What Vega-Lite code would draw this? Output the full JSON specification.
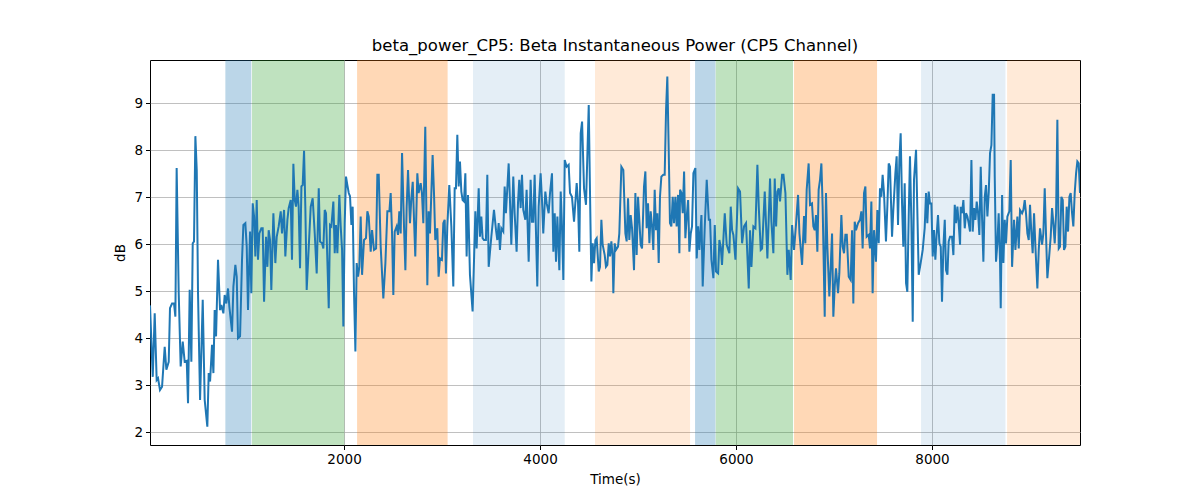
{
  "$schema": "https://vega.github.io/schema/vega-lite/v6.json",
  "width": 930,
  "height": 385,
  "autosize": "none",
  "padding": {"left": 150, "top": 60, "right": 120, "bottom": 55},
  "background": "white",
  "title": {
    "text": "beta_power_CP5: Beta Instantaneous Power (CP5 Channel)",
    "font": "DejaVu Sans",
    "fontSize": 16.5,
    "fontWeight": "normal",
    "color": "black",
    "offset": 6
  },
  "datasets": {
    "bands": [
      {"start": 789, "end": 1054, "phase": "blue"},
      {"start": 1061, "end": 2003, "phase": "green"},
      {"start": 2133, "end": 3057, "phase": "orange"},
      {"start": 3316, "end": 4252, "phase": "lightblue"},
      {"start": 4561, "end": 5531, "phase": "lightorange"},
      {"start": 5582, "end": 5790, "phase": "blue"},
      {"start": 5793, "end": 6582, "phase": "green"},
      {"start": 6592, "end": 7439, "phase": "orange"},
      {"start": 7888, "end": 8749, "phase": "lightblue"},
      {"start": 8766, "end": 9510, "phase": "lightorange"}
    ],
    "series": [
      {"t":20,"db":4.7},{"t":48,"db":3.18},{"t":68,"db":4.53},{"t":88,"db":3.11},{"t":102,"db":3.15},{"t":122,"db":2.9},{"t":143,"db":2.97},{"t":170,"db":3.82},{"t":187,"db":3.33},{"t":211,"db":3.5},
      {"t":224,"db":4.64},{"t":245,"db":4.74},{"t":265,"db":4.74},{"t":279,"db":4.46},{"t":292,"db":7.62},{"t":313,"db":4.96},{"t":333,"db":3.4},{"t":354,"db":3.93},{"t":374,"db":3.5},{"t":395,"db":3.52},
      {"t":408,"db":2.62},{"t":425,"db":5.03},{"t":442,"db":3.5},{"t":456,"db":6.02},{"t":469,"db":6.06},{"t":483,"db":8.3},{"t":497,"db":7.58},{"t":510,"db":4.96},{"t":531,"db":2.69},{"t":558,"db":4.82},
      {"t":578,"db":2.69},{"t":605,"db":2.12},{"t":619,"db":3.26},{"t":633,"db":3.08},{"t":653,"db":3.86},{"t":667,"db":3.26},{"t":680,"db":4.6},{"t":694,"db":4.04},{"t":714,"db":5.67},{"t":735,"db":4.6},
      {"t":748,"db":4.71},{"t":769,"db":4.53},{"t":782,"db":4.92},{"t":799,"db":4.74},{"t":816,"db":5.06},{"t":830,"db":4.67},{"t":857,"db":4.14},{"t":871,"db":5.1},{"t":891,"db":5.56},{"t":905,"db":5.31},
      {"t":918,"db":4.0},{"t":939,"db":4.04},{"t":959,"db":5.67},{"t":973,"db":6.41},{"t":993,"db":6.45},{"t":1007,"db":5.95},{"t":1020,"db":4.6},{"t":1041,"db":6.27},{"t":1054,"db":4.96},{"t":1068,"db":6.87},
      {"t":1082,"db":6.59},{"t":1095,"db":5.74},{"t":1109,"db":6.94},{"t":1122,"db":5.67},{"t":1136,"db":6.23},{"t":1156,"db":6.34},{"t":1170,"db":6.34},{"t":1184,"db":4.78},{"t":1204,"db":6.16},{"t":1218,"db":5.52},
      {"t":1231,"db":6.3},{"t":1245,"db":6.09},{"t":1258,"db":5.03},{"t":1279,"db":6.66},{"t":1299,"db":5.6},{"t":1313,"db":6.16},{"t":1333,"db":6.38},{"t":1354,"db":6.7},{"t":1367,"db":6.23},{"t":1388,"db":6.73},
      {"t":1401,"db":5.74},{"t":1422,"db":6.52},{"t":1435,"db":6.77},{"t":1456,"db":6.94},{"t":1469,"db":5.67},{"t":1483,"db":7.71},{"t":1497,"db":6.94},{"t":1510,"db":6.8},{"t":1524,"db":7.16},{"t":1537,"db":6.8},
      {"t":1551,"db":5.49},{"t":1565,"db":7.23},{"t":1578,"db":7.26},{"t":1592,"db":7.99},{"t":1605,"db":6.8},{"t":1619,"db":5.03},{"t":1640,"db":5.95},{"t":1660,"db":6.8},{"t":1680,"db":6.98},{"t":1701,"db":6.23},
      {"t":1721,"db":5.38},{"t":1742,"db":7.19},{"t":1755,"db":6.06},{"t":1776,"db":6.02},{"t":1789,"db":5.91},{"t":1803,"db":6.73},{"t":1816,"db":6.66},{"t":1844,"db":4.64},{"t":1857,"db":6.41},{"t":1871,"db":6.38},
      {"t":1891,"db":6.91},{"t":1905,"db":5.81},{"t":1918,"db":6.41},{"t":1932,"db":5.81},{"t":1952,"db":7.05},{"t":1966,"db":6.38},{"t":1980,"db":5.88},{"t":1993,"db":4.25},{"t":2007,"db":6.45},{"t":2020,"db":7.44},
      {"t":2034,"db":7.26},{"t":2048,"db":7.09},{"t":2061,"db":7.02},{"t":2075,"db":6.41},{"t":2088,"db":6.8},{"t":2102,"db":4.96},{"t":2116,"db":3.72},{"t":2129,"db":5.6},{"t":2143,"db":5.31},{"t":2156,"db":5.52},
      {"t":2170,"db":6.59},{"t":2184,"db":5.35},{"t":2204,"db":6.09},{"t":2224,"db":6.13},{"t":2238,"db":6.7},{"t":2252,"db":6.59},{"t":2272,"db":5.84},{"t":2286,"db":6.3},{"t":2306,"db":5.88},{"t":2327,"db":5.91},
      {"t":2340,"db":7.48},{"t":2354,"db":7.48},{"t":2374,"db":5.95},{"t":2401,"db":4.85},{"t":2422,"db":5.6},{"t":2442,"db":6.7},{"t":2463,"db":6.7},{"t":2476,"db":7.09},{"t":2490,"db":6.23},{"t":2503,"db":4.92},
      {"t":2517,"db":6.27},{"t":2537,"db":6.38},{"t":2551,"db":6.2},{"t":2564,"db":6.7},{"t":2578,"db":6.23},{"t":2592,"db":7.94},{"t":2612,"db":6.38},{"t":2626,"db":5.45},{"t":2639,"db":6.8},{"t":2653,"db":7.58},
      {"t":2673,"db":6.45},{"t":2687,"db":6.98},{"t":2701,"db":7.33},{"t":2727,"db":5.74},{"t":2748,"db":7.51},{"t":2761,"db":7.09},{"t":2782,"db":7.3},{"t":2795,"db":7.09},{"t":2809,"db":6.45},{"t":2829,"db":8.5},
      {"t":2850,"db":5.13},{"t":2863,"db":6.7},{"t":2877,"db":6.23},{"t":2904,"db":7.9},{"t":2918,"db":7.09},{"t":2931,"db":6.09},{"t":2952,"db":6.34},{"t":2965,"db":5.31},{"t":2979,"db":5.7},{"t":2999,"db":5.67},
      {"t":3013,"db":6.45},{"t":3027,"db":6.52},{"t":3040,"db":5.38},{"t":3054,"db":6.38},{"t":3074,"db":7.26},{"t":3095,"db":6.38},{"t":3115,"db":5.1},{"t":3129,"db":7.19},{"t":3142,"db":7.19},{"t":3156,"db":8.33},
      {"t":3170,"db":7.23},{"t":3183,"db":7.76},{"t":3197,"db":7.12},{"t":3210,"db":6.94},{"t":3224,"db":6.91},{"t":3238,"db":7.51},{"t":3251,"db":5.74},{"t":3265,"db":7.05},{"t":3285,"db":5.35},{"t":3312,"db":4.57},
      {"t":3340,"db":6.7},{"t":3353,"db":5.91},{"t":3374,"db":7.19},{"t":3387,"db":6.16},{"t":3401,"db":6.59},{"t":3414,"db":6.13},{"t":3428,"db":6.09},{"t":3448,"db":6.09},{"t":3462,"db":7.48},{"t":3476,"db":5.52},
      {"t":3503,"db":6.16},{"t":3530,"db":6.73},{"t":3551,"db":6.3},{"t":3564,"db":6.09},{"t":3578,"db":6.45},{"t":3591,"db":5.88},{"t":3605,"db":6.34},{"t":3625,"db":6.27},{"t":3639,"db":7.23},{"t":3652,"db":6.66},
      {"t":3680,"db":7.72},{"t":3693,"db":6.94},{"t":3707,"db":5.99},{"t":3727,"db":7.44},{"t":3741,"db":6.66},{"t":3761,"db":5.84},{"t":3775,"db":6.87},{"t":3788,"db":7.37},{"t":3802,"db":6.77},{"t":3816,"db":7.48},
      {"t":3829,"db":6.73},{"t":3850,"db":6.52},{"t":3863,"db":7.16},{"t":3884,"db":5.63},{"t":3904,"db":7.37},{"t":3918,"db":6.48},{"t":3931,"db":6.48},{"t":3945,"db":7.48},{"t":3959,"db":6.23},{"t":3972,"db":5.1},
      {"t":3986,"db":6.8},{"t":4006,"db":7.51},{"t":4020,"db":6.94},{"t":4033,"db":6.23},{"t":4054,"db":7.12},{"t":4068,"db":6.87},{"t":4088,"db":6.66},{"t":4102,"db":7.09},{"t":4122,"db":7.51},{"t":4136,"db":5.84},
      {"t":4150,"db":6.66},{"t":4163,"db":5.63},{"t":4177,"db":6.59},{"t":4197,"db":5.45},{"t":4211,"db":7.12},{"t":4224,"db":6.38},{"t":4238,"db":5.24},{"t":4252,"db":7.79},{"t":4272,"db":7.65},{"t":4292,"db":7.69},
      {"t":4306,"db":7.09},{"t":4326,"db":7.01},{"t":4347,"db":6.48},{"t":4374,"db":7.3},{"t":4388,"db":6.87},{"t":4401,"db":5.84},{"t":4415,"db":8.36},{"t":4429,"db":8.61},{"t":4449,"db":7.19},{"t":4469,"db":6.84},
      {"t":4497,"db":8.96},{"t":4510,"db":7.09},{"t":4524,"db":5.21},{"t":4537,"db":6.02},{"t":4551,"db":5.6},{"t":4565,"db":6.09},{"t":4578,"db":6.13},{"t":4599,"db":5.42},{"t":4612,"db":5.52},{"t":4626,"db":6.52},
      {"t":4639,"db":5.99},{"t":4660,"db":5.77},{"t":4673,"db":5.52},{"t":4687,"db":5.56},{"t":4701,"db":6.02},{"t":4714,"db":5.74},{"t":4728,"db":6.06},{"t":4741,"db":5.74},{"t":4748,"db":4.96},{"t":4762,"db":6.02},
      {"t":4775,"db":5.88},{"t":4796,"db":5.95},{"t":4809,"db":6.23},{"t":4830,"db":7.65},{"t":4850,"db":7.58},{"t":4871,"db":6.23},{"t":4884,"db":6.06},{"t":4898,"db":6.98},{"t":4911,"db":6.09},{"t":4925,"db":6.62},
      {"t":4939,"db":6.34},{"t":4959,"db":5.45},{"t":4973,"db":7.09},{"t":4986,"db":5.77},{"t":5000,"db":7.01},{"t":5013,"db":6.52},{"t":5027,"db":5.99},{"t":5041,"db":5.91},{"t":5061,"db":7.23},{"t":5075,"db":7.55},
      {"t":5088,"db":6.34},{"t":5102,"db":6.87},{"t":5116,"db":6.02},{"t":5129,"db":6.7},{"t":5143,"db":6.38},{"t":5156,"db":5.88},{"t":5170,"db":7.16},{"t":5184,"db":6.3},{"t":5197,"db":6.66},{"t":5211,"db":5.6},
      {"t":5224,"db":7.01},{"t":5238,"db":7.44},{"t":5258,"db":7.48},{"t":5272,"db":7.48},{"t":5286,"db":8.86},{"t":5299,"db":9.57},{"t":5313,"db":8.01},{"t":5326,"db":6.45},{"t":5340,"db":6.38},{"t":5354,"db":7.01},
      {"t":5367,"db":6.45},{"t":5381,"db":7.01},{"t":5394,"db":6.38},{"t":5408,"db":7.05},{"t":5422,"db":5.81},{"t":5429,"db":7.16},{"t":5443,"db":7.09},{"t":5456,"db":6.66},{"t":5470,"db":7.55},{"t":5483,"db":6.13},
      {"t":5497,"db":6.59},{"t":5511,"db":6.94},{"t":5524,"db":5.84},{"t":5538,"db":6.23},{"t":5551,"db":6.38},{"t":5565,"db":7.51},{"t":5585,"db":7.62},{"t":5599,"db":5.7},{"t":5613,"db":6.38},{"t":5626,"db":5.88},
      {"t":5647,"db":6.62},{"t":5660,"db":5.1},{"t":5681,"db":6.38},{"t":5701,"db":7.37},{"t":5722,"db":6.52},{"t":5735,"db":6.52},{"t":5749,"db":5.67},{"t":5769,"db":5.28},{"t":5783,"db":6.41},{"t":5796,"db":5.42},
      {"t":5817,"db":5.38},{"t":5830,"db":6.09},{"t":5844,"db":5.95},{"t":5857,"db":5.56},{"t":5885,"db":6.66},{"t":5905,"db":5.99},{"t":5932,"db":5.81},{"t":5946,"db":6.8},{"t":5960,"db":6.3},{"t":5973,"db":6.2},
      {"t":5994,"db":5.67},{"t":6021,"db":7.19},{"t":6041,"db":7.12},{"t":6062,"db":6.02},{"t":6082,"db":6.38},{"t":6102,"db":6.45},{"t":6130,"db":5.06},{"t":6143,"db":6.3},{"t":6157,"db":5.52},{"t":6177,"db":6.38},
      {"t":6198,"db":6.34},{"t":6218,"db":7.69},{"t":6232,"db":6.8},{"t":6252,"db":5.88},{"t":6266,"db":5.91},{"t":6293,"db":7.12},{"t":6320,"db":5.7},{"t":6347,"db":7.4},{"t":6361,"db":6.48},{"t":6381,"db":5.81},
      {"t":6395,"db":7.4},{"t":6409,"db":6.38},{"t":6422,"db":7.12},{"t":6436,"db":7.19},{"t":6449,"db":6.91},{"t":6470,"db":7.48},{"t":6484,"db":7.48},{"t":6504,"db":7.09},{"t":6524,"db":5.35},{"t":6538,"db":5.88},
      {"t":6558,"db":5.24},{"t":6572,"db":6.41},{"t":6592,"db":5.88},{"t":6613,"db":6.45},{"t":6633,"db":7.05},{"t":6647,"db":6.23},{"t":6674,"db":5.56},{"t":6694,"db":6.6},{"t":6707,"db":6.02},{"t":6721,"db":7.16},
      {"t":6741,"db":7.72},{"t":6755,"db":6.84},{"t":6775,"db":6.87},{"t":6789,"db":6.38},{"t":6803,"db":6.3},{"t":6816,"db":6.62},{"t":6830,"db":5.84},{"t":6843,"db":7.16},{"t":6857,"db":7.37},{"t":6871,"db":7.72},
      {"t":6884,"db":6.8},{"t":6905,"db":4.46},{"t":6918,"db":7.09},{"t":6932,"db":5.95},{"t":6952,"db":4.89},{"t":6966,"db":5.52},{"t":6980,"db":6.23},{"t":6993,"db":4.46},{"t":7007,"db":5.1},{"t":7020,"db":5.49},
      {"t":7041,"db":4.96},{"t":7054,"db":5.38},{"t":7075,"db":6.62},{"t":7088,"db":5.95},{"t":7102,"db":5.81},{"t":7116,"db":6.2},{"t":7130,"db":6.2},{"t":7150,"db":5.31},{"t":7170,"db":5.24},{"t":7184,"db":6.3},
      {"t":7197,"db":4.74},{"t":7211,"db":6.48},{"t":7224,"db":6.3},{"t":7245,"db":6.45},{"t":7265,"db":6.52},{"t":7279,"db":6.7},{"t":7292,"db":5.91},{"t":7306,"db":7.09},{"t":7320,"db":7.23},{"t":7333,"db":6.16},
      {"t":7354,"db":6.2},{"t":7367,"db":5.91},{"t":7381,"db":6.91},{"t":7394,"db":4.96},{"t":7408,"db":6.3},{"t":7428,"db":5.63},{"t":7442,"db":6.73},{"t":7456,"db":6.02},{"t":7469,"db":7.19},{"t":7483,"db":7.01},
      {"t":7496,"db":7.48},{"t":7510,"db":7.09},{"t":7530,"db":6.06},{"t":7544,"db":6.8},{"t":7558,"db":7.72},{"t":7571,"db":7.65},{"t":7592,"db":6.16},{"t":7605,"db":6.73},{"t":7626,"db":7.51},{"t":7639,"db":7.87},
      {"t":7653,"db":6.41},{"t":7667,"db":7.79},{"t":7680,"db":8.36},{"t":7694,"db":6.87},{"t":7707,"db":5.95},{"t":7721,"db":7.3},{"t":7735,"db":5.17},{"t":7748,"db":4.99},{"t":7762,"db":6.59},{"t":7775,"db":7.87},
      {"t":7789,"db":6.52},{"t":7803,"db":4.35},{"t":7816,"db":7.37},{"t":7837,"db":8.01},{"t":7864,"db":5.35},{"t":7884,"db":5.6},{"t":7905,"db":5.88},{"t":7925,"db":6.34},{"t":7939,"db":7.09},{"t":7952,"db":6.45},
      {"t":7966,"db":7.12},{"t":7979,"db":6.87},{"t":7993,"db":6.87},{"t":8007,"db":5.74},{"t":8020,"db":6.3},{"t":8034,"db":5.67},{"t":8047,"db":6.2},{"t":8061,"db":6.62},{"t":8075,"db":6.02},{"t":8089,"db":5.95},
      {"t":8102,"db":4.78},{"t":8116,"db":5.95},{"t":8130,"db":6.52},{"t":8143,"db":5.45},{"t":8157,"db":5.35},{"t":8170,"db":6.06},{"t":8184,"db":6.16},{"t":8204,"db":6.16},{"t":8218,"db":5.77},{"t":8232,"db":6.84},
      {"t":8245,"db":6.45},{"t":8259,"db":6.8},{"t":8272,"db":6.45},{"t":8286,"db":5.99},{"t":8293,"db":6.8},{"t":8306,"db":6.66},{"t":8320,"db":6.94},{"t":8334,"db":6.34},{"t":8347,"db":6.66},{"t":8361,"db":6.59},
      {"t":8374,"db":6.45},{"t":8388,"db":6.27},{"t":8402,"db":7.79},{"t":8415,"db":6.27},{"t":8429,"db":6.77},{"t":8443,"db":6.52},{"t":8456,"db":6.91},{"t":8470,"db":6.66},{"t":8483,"db":6.2},{"t":8497,"db":7.65},
      {"t":8511,"db":6.52},{"t":8524,"db":5.63},{"t":8538,"db":7.01},{"t":8551,"db":7.26},{"t":8565,"db":6.59},{"t":8579,"db":7.12},{"t":8592,"db":7.94},{"t":8606,"db":8.11},{"t":8619,"db":9.18},{"t":8633,"db":9.18},
      {"t":8640,"db":7.44},{"t":8653,"db":5.63},{"t":8667,"db":6.02},{"t":8680,"db":6.66},{"t":8694,"db":5.63},{"t":8701,"db":4.64},{"t":8715,"db":7.05},{"t":8728,"db":5.6},{"t":8742,"db":6.52},{"t":8755,"db":6.02},
      {"t":8769,"db":6.59},{"t":8789,"db":6.7},{"t":8803,"db":7.79},{"t":8817,"db":5.52},{"t":8837,"db":6.52},{"t":8851,"db":5.88},{"t":8871,"db":6.59},{"t":8885,"db":5.91},{"t":8898,"db":6.73},{"t":8919,"db":6.66},
      {"t":8932,"db":6.73},{"t":8946,"db":6.94},{"t":8959,"db":6.66},{"t":8973,"db":6.23},{"t":8987,"db":6.09},{"t":9000,"db":6.84},{"t":9014,"db":6.23},{"t":9027,"db":5.81},{"t":9041,"db":6.66},{"t":9055,"db":5.95},
      {"t":9075,"db":5.06},{"t":9089,"db":5.88},{"t":9102,"db":6.34},{"t":9123,"db":5.99},{"t":9136,"db":6.23},{"t":9150,"db":7.19},{"t":9164,"db":6.16},{"t":9177,"db":5.28},{"t":9198,"db":5.81},{"t":9211,"db":6.16},
      {"t":9225,"db":6.77},{"t":9238,"db":6.45},{"t":9252,"db":6.02},{"t":9266,"db":6.66},{"t":9279,"db":8.65},{"t":9293,"db":5.91},{"t":9306,"db":5.95},{"t":9320,"db":7.01},{"t":9334,"db":6.94},{"t":9347,"db":5.88},
      {"t":9361,"db":5.95},{"t":9374,"db":6.8},{"t":9388,"db":6.27},{"t":9402,"db":7.01},{"t":9415,"db":7.09},{"t":9429,"db":6.66},{"t":9442,"db":6.38},{"t":9456,"db":7.09},{"t":9470,"db":7.51},{"t":9483,"db":7.76},
      {"t":9497,"db":7.72},{"t":9510,"db":7.09}
    ]
  },
  "layer": [
    {
      "data": {"name": "bands"},
      "mark": {"type": "rect", "clip": true, "opacity": 1},
      "encoding": {
        "x": {"field": "start", "type": "quantitative", "title": "Time(s)", "scale": {"domain": [20, 9510], "nice": false, "zero": false}},
        "x2": {"field": "end"},
        "color": {
          "field": "phase",
          "type": "nominal",
          "scale": {
            "domain": ["blue", "green", "orange", "lightblue", "lightorange"],
            "range": ["rgba(31,119,180,0.3)", "rgba(44,160,44,0.3)", "rgba(255,127,14,0.3)", "rgba(31,119,180,0.12)", "rgba(255,127,14,0.16)"]
          },
          "legend": null
        }
      }
    },
    {
      "data": {"name": "series"},
      "mark": {"type": "line", "color": "#1f77b4", "strokeWidth": 2, "clip": true},
      "encoding": {
        "x": {
          "field": "t",
          "type": "quantitative",
          "title": "Time(s)",
          "scale": {"domain": [20, 9510], "nice": false, "zero": false},
          "axis": {"values": [2000, 4000, 6000, 8000], "format": "d", "titlePadding": 6}
        },
        "y": {
          "field": "db",
          "type": "quantitative",
          "title": "dB",
          "scale": {"domain": [1.73, 9.92], "nice": false, "zero": false},
          "axis": {"values": [2, 3, 4, 5, 6, 7, 8, 9], "titlePadding": 6}
        }
      }
    }
  ],
  "config": {
    "view": {"stroke": "black", "strokeWidth": 1},
    "axis": {
      "labelFont": "DejaVu Sans",
      "labelFontSize": 13.5,
      "labelColor": "black",
      "titleFont": "DejaVu Sans",
      "titleFontSize": 13.5,
      "titleFontWeight": "normal",
      "titleColor": "black",
      "tickColor": "black",
      "tickSize": 4.5,
      "labelPadding": 3,
      "domain": false,
      "gridColor": "#b0b0b0",
      "gridWidth": 0.8
    }
  }
}
